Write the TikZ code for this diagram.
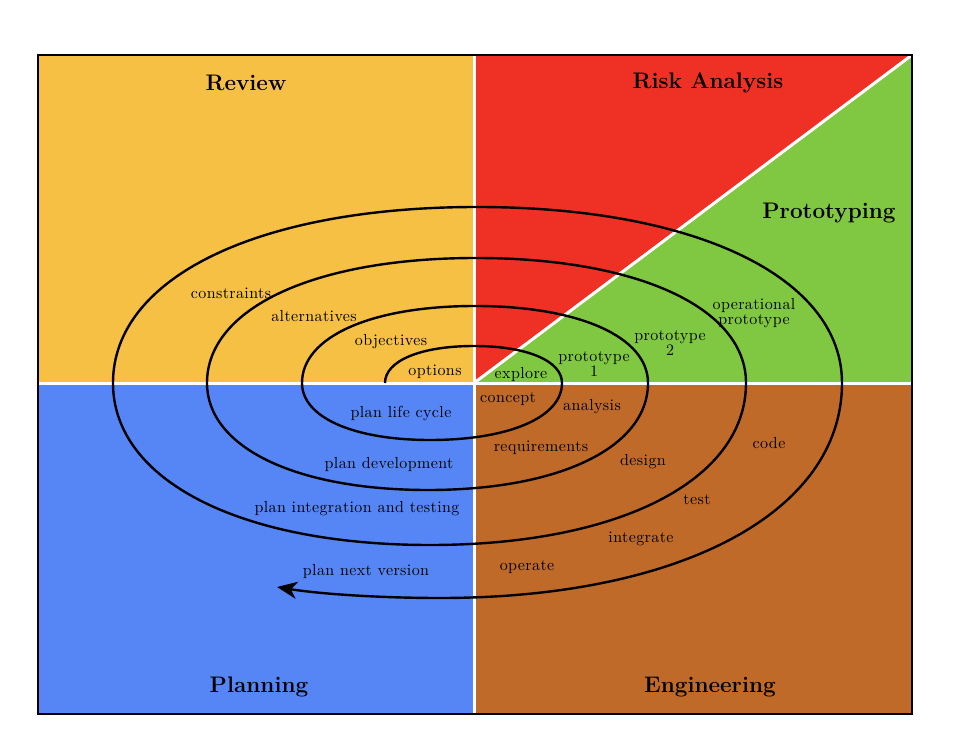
\documentclass[tikz,border=0pt]{standalone}
\usepackage{fontspec}
\usepackage{tikz}
\usetikzlibrary{arrows.meta}
\newfontfamily\phasefont{lmroman10-regular.otf}[LetterSpace=2.5]
\definecolor{reviewyellow}{HTML}{F5C043}
\definecolor{riskred}{HTML}{EE3124}
\definecolor{protogreen}{HTML}{80C841}
\definecolor{planblue}{HTML}{5686F5}
\definecolor{engbrown}{HTML}{BF6A28}
\tikzstyle{quadtitle} = [font=\fontsize{22.5}{26}\selectfont\bfseries, text=black, inner sep=0pt]
\tikzstyle{phase} = [font=\phasefont\fontsize{16}{15}\selectfont, text=black, align=center, inner sep=0pt]
\tikzstyle{divider} = [white, line width=3pt]
\tikzstyle{spiral} = [black, line width=2.4pt, -{Stealth[length=20pt, width=17pt, inset=6pt]}]

\begin{document}
\begin{tikzpicture}[x=1pt, y=-1pt]
    \useasboundingbox (0,0) rectangle (978,738);
    % Quadrants
    \coordinate (centre) at (474,383);
    \fill[reviewyellow] (38,55) rectangle (centre);
    \fill[riskred] (474,55) -- (912,55) -- (centre) -- cycle;
    \fill[protogreen] (912,55) -- (912,383) -- (centre) -- cycle;
    \fill[planblue] (38,383) rectangle (474,714);
    \fill[engbrown] (centre) rectangle (912,714);

    % Dividers and frame
    \draw[divider] (38,383) -- (912,383);
    \draw[divider] (474,55) -- (474,714);
    \draw[divider] (centre) -- (912,55);
    \draw[black, line width=2.5pt] (38,55) rectangle (912,714);

    % Spiral
    \coordinate (start) at (385,383);
    \coordinate (tip) at (277,587);
    \draw[spiral] (start)
        .. controls (385,360.8) and (420.6,346) .. (474,346)
        .. controls (526.8,346) and (562,360.8) .. (562,383)
        .. controls (562,417.2) and (509.2,440) .. (430,440)
        .. controls (353.2,440) and (302,417.2) .. (302,383)
        .. controls (302,336.8) and (371.2,306) .. (475,306)
        .. controls (578.8,306) and (648,336.8) .. (648,383)
        .. controls (648,447.2) and (560,490) .. (428,490)
        .. controls (295.4,490) and (207,447.2) .. (207,383)
        .. controls (207,308) and (314.6,258) .. (476,258)
        .. controls (638,258) and (746,308) .. (746,383)
        .. controls (746,480.2) and (619.6,545) .. (430,545)
        .. controls (239.8,545) and (113,480.2) .. (113,383)
        .. controls (113,277.4) and (258.6,207) .. (477,207)
        .. controls (696,207) and (842,277.4) .. (842,383)
        .. controls (842,512) and (681.2,598) .. (440,598)
        .. controls (380,598) and (320,594) .. (tip);

    % Quadrant titles
    \node[quadtitle] (review) at (246,83) {Review};
    \node[quadtitle] (risk) at (708,83) {Risk Analysis};
    \node[quadtitle] (proto) at (829,213) {Prototyping};
    \node[quadtitle] (planning) at (259,687) {Planning};
    \node[quadtitle] (engineering) at (710,687) {Engineering};

    % Review labels
    \node[phase] (constraints) at (231,293) {constraints};
    \node[phase] (alternatives) at (314,316) {alternatives};
    \node[phase] (objectives) at (391,342) {objectives};
    \node[phase] (options) at (435,372) {options};

    % Risk and prototyping labels
    \node[phase] (explore) at (521,374) {explore};
    \node[phase] (proto1) at (594,364) {prototype\\1};
    \node[phase] (proto2) at (670,343) {prototype\\2};
    \node[phase] (opproto) at (754,313) {operational\\prototype};

    % Engineering labels
    \node[phase] (concept) at (508,399) {concept};
    \node[phase] (analysis) at (592,407) {analysis};
    \node[phase] (requirements) at (541,448) {requirements};
    \node[phase] (design) at (643,462) {design};
    \node[phase] (code) at (769,443) {code};
    \node[phase] (test) at (697,500) {test};
    \node[phase] (integrate) at (641,539) {integrate};
    \node[phase] (operate) at (527,567) {operate};

    % Planning labels
    \node[phase] (lifecycle) at (401,413) {plan life cycle};
    \node[phase] (development) at (389,464) {plan development};
    \node[phase] (inttest) at (357,509) {plan integration and testing};
    \node[phase] (nextversion) at (366,571) {plan next version};
\end{tikzpicture}
\end{document}
